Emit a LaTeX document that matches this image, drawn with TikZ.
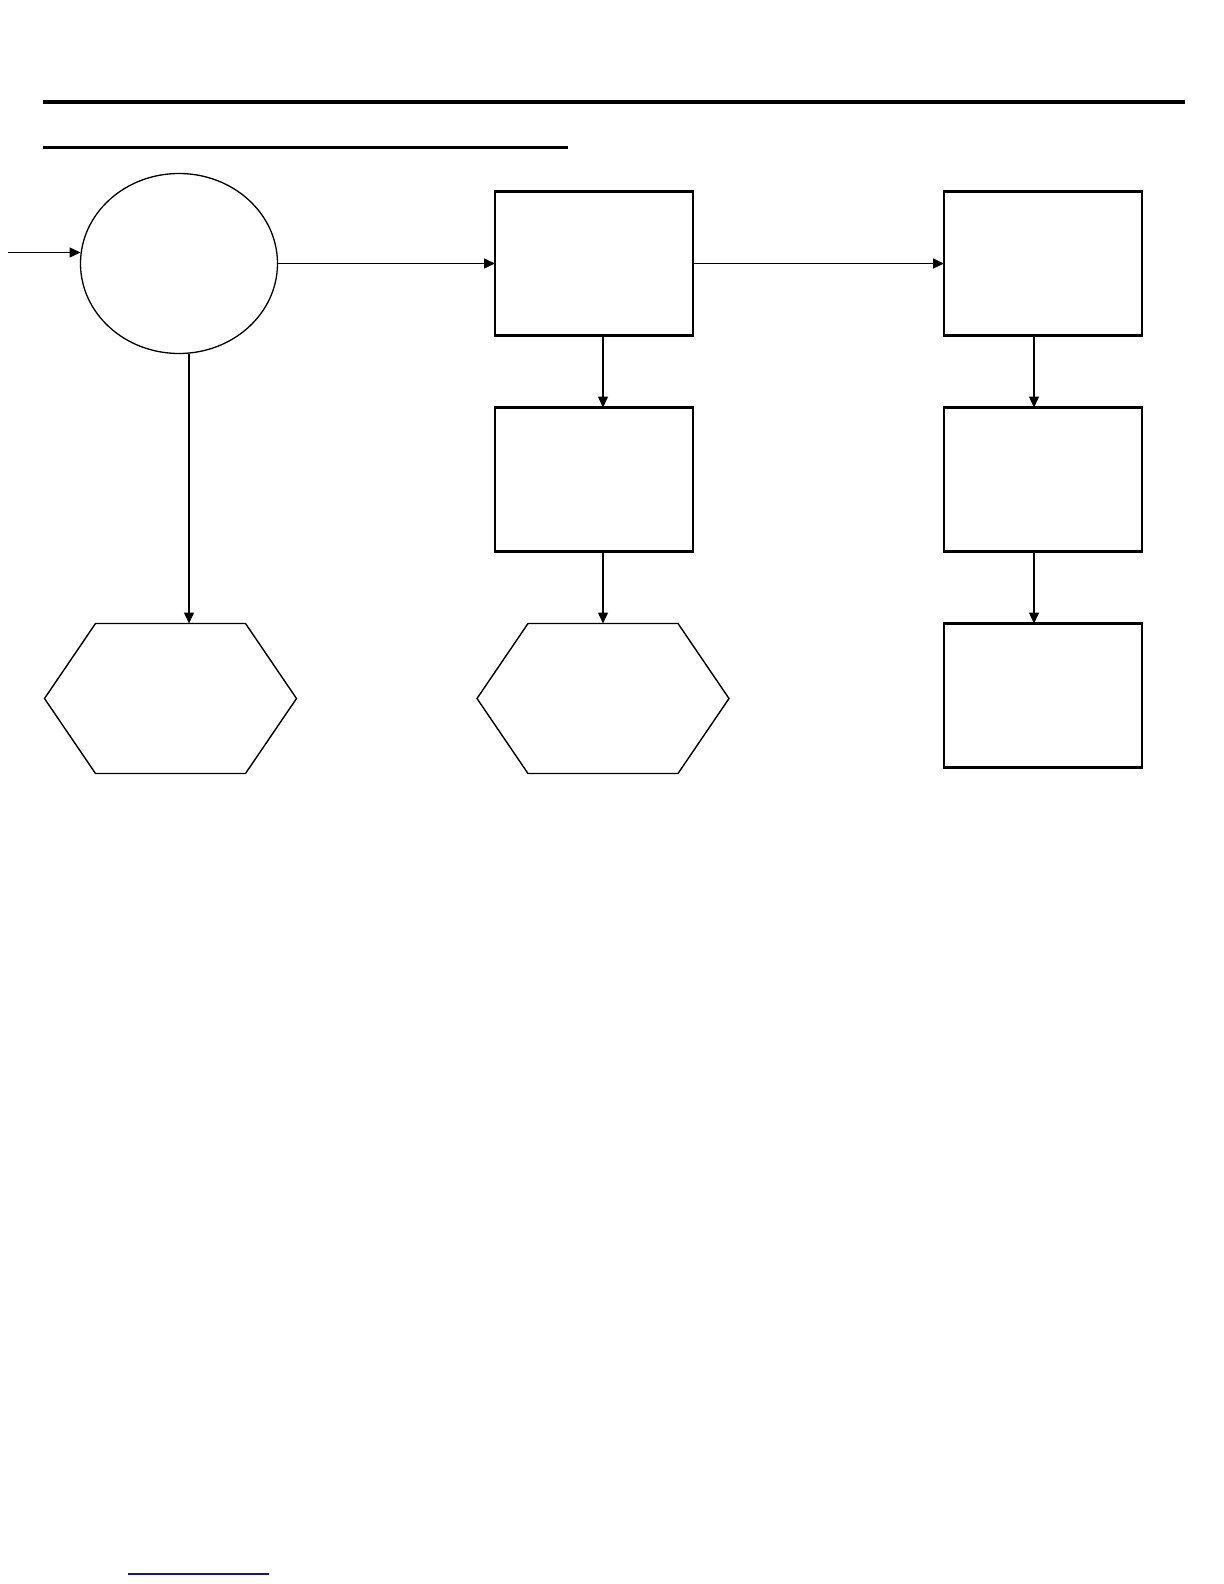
\documentclass[tikz,border=0pt]{standalone}
\usepackage{tikz}
\usepackage{xcolor}
\usetikzlibrary{shapes.geometric,arrows.meta,positioning}
\definecolor{linkblue}{RGB}{20,20,150}

\begin{document}
\begin{tikzpicture}[x=0.5pt, y=-0.5pt,
        >={Triangle[length=5.5pt, width=5pt]},
        flowbox/.style={draw, line width=1.1pt, minimum width=99pt, minimum height=72pt, inner sep=0pt, outer sep=0pt},
        hexspot/.style={minimum width=126pt, minimum height=75pt, inner sep=0pt, outer sep=0pt},
        hexline/.style={line width=0.7pt},
        flowarrow/.style={->, line width=0.75pt},
        rule/.style={line width=1.6pt}]
            \useasboundingbox (0,0) rectangle (1224,1584);

            % heading rules
            \draw[rule] (43,102) -- (1185,102);
            \draw[rule] (43,147.5) -- (568,147.5);

            \node[draw, ellipse, line width=0.65pt, minimum width=98.5pt, minimum height=90pt, inner sep=0pt, outer sep=0pt] (circ) at (179,263.5) {};

            \node[flowbox] (boxA) at (594,263.5) {};
            \node[flowbox] (boxB) at (1043,263.5) {};
            \node[flowbox] (boxC) at (594,479.5) {};
            \node[flowbox] (boxD) at (1043,479.5) {};
            \node[flowbox] (boxE) at (1043,695.5) {};

            \node[hexspot] (hexA) at (170.5,698.5) {};
            \node[hexspot] (hexB) at (603,698.5) {};
            \foreach \h in {hexA,hexB}
                \draw[hexline] (\h.west) -- ([xshift=25.5pt]\h.north west) -- ([xshift=-25.5pt]\h.north east)
                    -- (\h.east) -- ([xshift=-25.5pt]\h.south east) -- ([xshift=25.5pt]\h.south west) -- cycle;

            \coordinate (in) at (8,252.5);
            \coordinate (downA) at (189,0);

            \draw[flowarrow] (in) -- (in -| circ.west);
            \draw[flowarrow] (circ.east) -- (boxA.west);
            \draw[flowarrow] (boxA.east) -- (boxB.west);
            \draw[flowarrow] (circ.south -| downA) -- (hexA.north -| downA);
            \draw[flowarrow] (boxA.south -| hexB.north) -- (boxC.north -| hexB.north);
            \draw[flowarrow] (boxC.south -| hexB.north) -- (hexB.north);
            \draw[flowarrow] ([xshift=-4.5pt]boxB.south) -- ([xshift=-4.5pt]boxD.north);
            \draw[flowarrow] ([xshift=-4.5pt]boxD.south) -- ([xshift=-4.5pt]boxE.north);

            \draw[linkblue, line width=0.6pt] (128,1574) -- (269,1574);
        \end{tikzpicture}
\end{document}
